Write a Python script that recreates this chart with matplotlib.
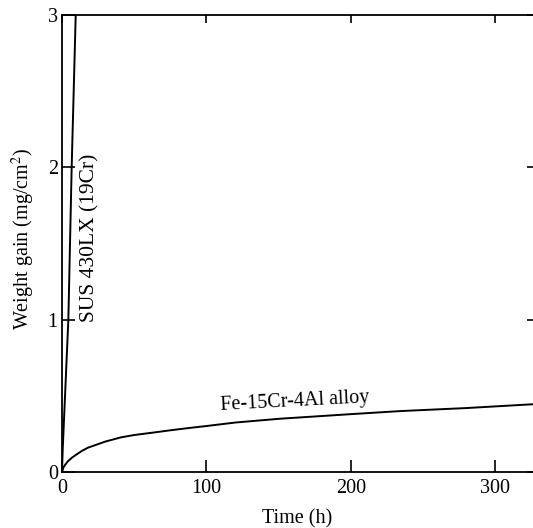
import numpy as np
import matplotlib.pyplot as plt

plt.rcParams['font.family'] = ['Liberation Serif', 'DejaVu Serif']
plt.rcParams['mathtext.fontset'] = 'stix'

fe_time = [0, 1, 2, 4, 7, 10, 14, 18, 24, 30, 41, 50, 64, 75, 87, 100, 120, 151, 200, 234, 280, 326]
fe_gain = [0, 0.03, 0.045, 0.07, 0.095, 0.115, 0.14, 0.16, 0.18, 0.2, 0.228, 0.243, 0.26, 0.274, 0.288,
           0.302, 0.325, 0.35, 0.38, 0.40, 0.42, 0.445]

sus_time = [0, 0.5, 4.4, 6.7, 9.5]
sus_gain = [0, 0.15, 1.0, 2.0, 3.0]

xticks = [0, 100, 200, 300]
yticks = [0, 1, 2, 3]

fig = plt.figure(figsize=(5.33, 5.28), dpi=100)
ax = fig.add_axes([0.1163, 0.106, 0.8837, 0.8656])

ax.plot(fe_time, fe_gain, color='black', linewidth=1.4)
ax.plot(sus_time, sus_gain, color='black', linewidth=1.4)

ax.set_xlim(0, 326)
ax.set_ylim(0, 3)
ax.set_xticks(xticks)
ax.set_yticks(yticks)

ax.tick_params(axis='both', direction='in', length=9, width=1.2, labelsize=14.5,
               top=True, right=True, colors='black')
ax.tick_params(axis='x', pad=5)
ax.tick_params(axis='y', pad=3)
# shorter ticks on top and right
for t in ax.xaxis.get_major_ticks():
    t.tick2line.set_markersize(6)
for t in ax.yaxis.get_major_ticks():
    t.tick2line.set_markersize(4.5)
for sp in ax.spines.values():
    sp.set_linewidth(1.3)
ax.spines['right'].set_visible(False)

ax.set_xlabel('Time (h)', fontsize=14.5, labelpad=8)
ax.set_ylabel('Weight gain (mg/cm$^2$)', fontsize=14.5)
ax.yaxis.set_label_coords(-0.054, 0.51)

ax.text(161, 0.465, 'Fe-15Cr-4Al alloy', fontsize=14.5, rotation=3,
        ha='center', va='center')
ax.text(19.5, 1.54, 'SUS 430LX (19Cr)', fontsize=15.5, rotation=90,
        ha='center', va='center')

fig.savefig('out.png', dpi=100)
